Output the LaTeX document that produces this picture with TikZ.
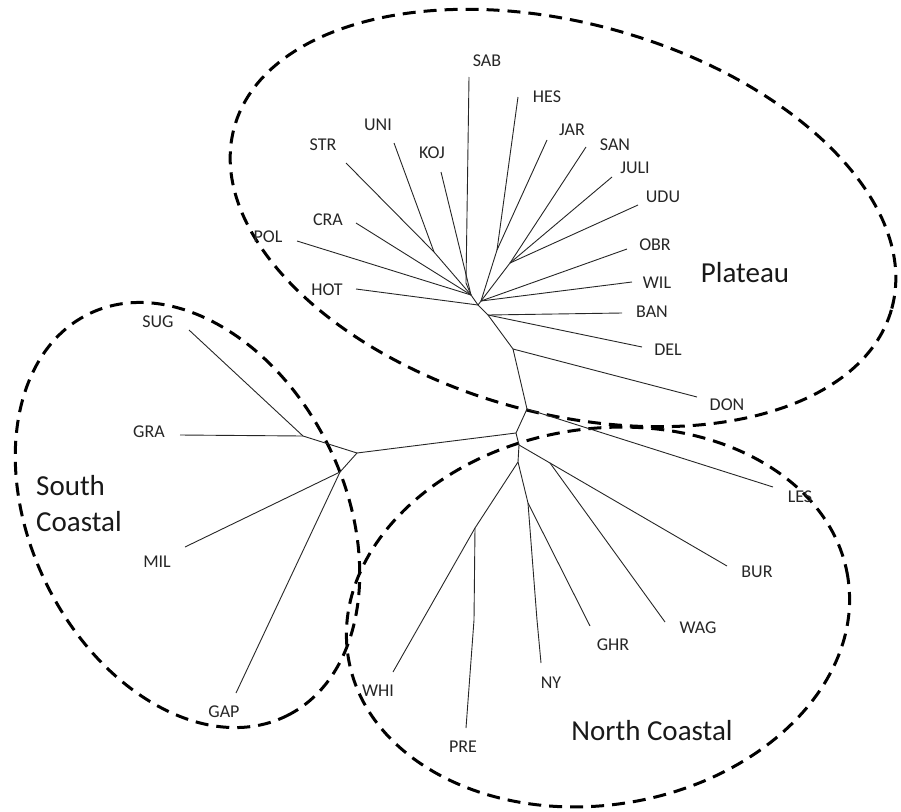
\documentclass[tikz,border=0pt]{standalone}
\usepackage{fontspec}
\setmainfont{Carlito}
\begin{document}
\begin{tikzpicture}[x=1pt,y=-1pt,
  branch/.style={line width=0.9pt, black!85},
  region/.style={line width=3pt, dash pattern=on 13pt off 8pt},
  leaf/.style={font=\fontsize{18}{20}\selectfont, inner sep=0pt, text=black!85},
  group/.style={font=\fontsize{29}{36}\selectfont, inner sep=0pt, text=black!90}]
\useasboundingbox (0,0) rectangle (901,811);
% regions
\draw[region, rotate around={-15.4:(563,218)}] (563,218) ellipse [x radius=341pt, y radius=195pt];
\draw[region, rotate around={-63.7:(187.5,515)}] (187.5,515) ellipse [x radius=224pt, y radius=157pt];
\draw[region, rotate around={9.1:(598,617)}] (598,617) ellipse [x radius=253pt, y radius=188pt];
% leaf ends
\coordinate (sab) at (469,77);
\coordinate (hes) at (518,97);
\coordinate (jar) at (547,140);
\coordinate (san) at (586,147);
\coordinate (juli) at (612,177);
\coordinate (udu) at (638,205);
\coordinate (obr) at (627,249);
\coordinate (wil) at (632,282);
\coordinate (ban) at (622,313);
\coordinate (del) at (642,347);
\coordinate (don) at (697,397);
\coordinate (les) at (773,487);
\coordinate (bur) at (727,566);
\coordinate (wag) at (665,622);
\coordinate (ghr) at (590,626);
\coordinate (ny) at (541,663);
\coordinate (pre) at (466,728);
\coordinate (whi) at (393,672);
\coordinate (gap) at (236,693);
\coordinate (mil) at (185,547);
\coordinate (gra) at (180,435);
\coordinate (sug) at (189,330);
\coordinate (hot) at (356,289);
\coordinate (pol) at (297,241);
\coordinate (cra) at (356,223);
\coordinate (str) at (346,163);
\coordinate (uni) at (394,143);
\coordinate (koj) at (441,172);
% internal nodes
\coordinate (h) at (478,305);
\coordinate (l) at (471,295);
\coordinate (s1) at (466,283);
\coordinate (u) at (434,252);
\coordinate (r) at (481,301);
\coordinate (a) at (497,250);
\coordinate (b) at (510,263);
\coordinate (t1) at (488,315);
\coordinate (t2) at (513,349);
\coordinate (t3) at (527,409);
\coordinate (t4) at (516,433);
\coordinate (n1) at (519,445);
\coordinate (w) at (550,463);
\coordinate (n2) at (518,462);
\coordinate (p) at (475,528);
\coordinate (p1) at (474,620);
\coordinate (q) at (528,503);
\coordinate (q1) at (537,620);
\coordinate (j) at (357,453);
\coordinate (g) at (303,436);
\coordinate (m) at (340,472);
% branches
\draw[branch] (sab) -- (s1) -- (l);
\draw[branch] (koj) -- (l);
\draw[branch] (uni) -- (u);
\draw[branch] (str) -- (u) -- (l);
\draw[branch] (cra) -- (l);
\draw[branch] (pol) -- (l);
\draw[branch] (l) -- (h);
\draw[branch] (hot) -- (h);
\draw[branch] (hes) -- (a);
\draw[branch] (jar) -- (a) -- (r);
\draw[branch] (san) -- (b);
\draw[branch] (juli) -- (b);
\draw[branch] (udu) -- (b) -- (r);
\draw[branch] (obr) -- (r);
\draw[branch] (wil) -- (r) -- (h);
\draw[branch] (h) -- (t1) -- (t2) -- (t3) -- (t4) -- (n1) -- (n2);
\draw[branch] (t1) -- (ban);
\draw[branch] (t1) -- (del);
\draw[branch] (t2) -- (don);
\draw[branch] (t3) -- (les);
\draw[branch] (n1) -- (w) -- (bur);
\draw[branch] (w) -- (wag);
\draw[branch] (n2) -- (p) -- (whi);
\draw[branch] (p) -- (p1) -- (pre);
\draw[branch] (n2) -- (q) -- (q1) -- (ny);
\draw[branch] (q) -- (ghr);
\draw[branch] (t4) -- (j);
\draw[branch] (j) -- (g) -- (sug);
\draw[branch] (g) -- (gra);
\draw[branch] (j) -- (m) -- (mil);
\draw[branch] (m) -- (gap);
% labels
\node[leaf] (lsab) at (487,61) {SAB};
\node[leaf] (lhes) at (547,97) {HES};
\node[leaf] (ljar) at (572,130) {JAR};
\node[leaf] (lsan) at (615,145) {SAN};
\node[leaf] (ljuli) at (635,168) {JULI};
\node[leaf] (ludu) at (663,197) {UDU};
\node[leaf] (lobr) at (655,245) {OBR};
\node[leaf] (lwil) at (657,283) {WIL};
\node[leaf] (lban) at (652,312) {BAN};
\node[leaf] (ldel) at (668,350) {DEL};
\node[leaf] (ldon) at (727,405) {DON};
\node[leaf] (lles) at (800,497) {LES};
\node[leaf] (lbur) at (757,572) {BUR};
\node[leaf] (lwag) at (698,628) {WAG};
\node[leaf] (lghr) at (613,645) {GHR};
\node[leaf] (lny) at (551,683) {NY};
\node[leaf] (lpre) at (463,747) {PRE};
\node[leaf] (lwhi) at (378,691) {WHI};
\node[leaf] (lgap) at (224,712) {GAP};
\node[leaf] (lmil) at (157,562) {MIL};
\node[leaf] (lgra) at (149,432) {GRA};
\node[leaf] (lsug) at (158,322) {SUG};
\node[leaf] (lhot) at (327,290) {HOT};
\node[leaf] (lpol) at (268,237) {POL};
\node[leaf] (lcra) at (328,220) {CRA};
\node[leaf] (lstr) at (323,145) {STR};
\node[leaf] (luni) at (378,125) {UNI};
\node[leaf] (lkoj) at (432,153) {KOJ};
\node[group] (gplat) at (745,273) {Plateau};
\node[group] (gnorth) at (652,731) {North Coastal};
\node[group, align=left, anchor=west] (gsouth) at (36,504) {South\\Coastal};
\end{tikzpicture}
\end{document}
